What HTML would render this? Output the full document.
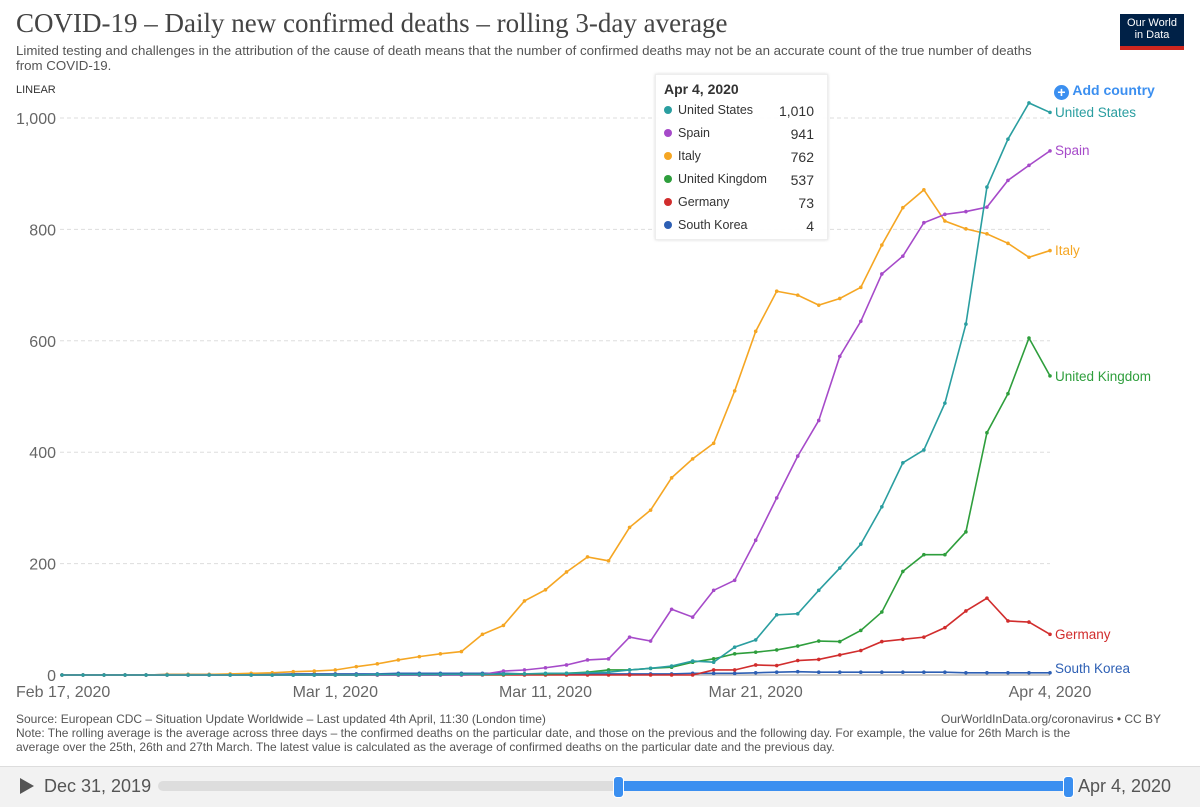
<!DOCTYPE html>
<html><head><meta charset="utf-8"><style>
body{margin:0;width:1200px;height:806px;background:#fff;font-family:"Liberation Sans",sans-serif;overflow:hidden;position:relative}
.t{position:absolute;white-space:nowrap}
</style></head><body>
<div class="t" style="left:16px;top:8px;font-family:'Liberation Serif',serif;font-size:27px;color:#444">COVID-19 – Daily new confirmed deaths – rolling 3-day average</div>
<div class="t" style="left:16px;top:43px;font-size:13.3px;line-height:15px;color:#555;white-space:normal;width:1030px">Limited testing and challenges in the attribution of the cause of death means that the number of confirmed deaths may not be an accurate count of the true number of deaths from COVID-19.</div>
<div style="position:absolute;left:1120px;top:14px;width:64px;height:36px;background:#002147;color:#fff;font-size:11px;line-height:12px;text-align:center;padding-top:3px;box-sizing:border-box;border-bottom:4px solid #ce261e">Our World<br>in Data</div>
<div class="t" style="left:16px;top:84px;font-size:11px;color:#333">LINEAR</div>
<div class="t" style="left:1054px;top:82px;font-size:14px;font-weight:bold;color:#3b8ff0"><span style="display:inline-block;width:15px;height:15px;border-radius:50%;background:#3b8ff0;color:#fff;text-align:center;line-height:15px;font-size:14px;vertical-align:-2px">+</span> Add country</div>
<svg id="chart" width="1200" height="806" style="position:absolute;left:0;top:0"></svg>
<div style="position:absolute;left:655px;top:74px;width:171px;height:164px;background:rgba(255,255,255,0.95);border:1px solid #eee;box-shadow:0 0 3px rgba(0,0,0,0.15);font-size:12.5px;color:#333">
<div style="position:absolute;left:8px;top:6px;font-weight:bold;font-size:14px">Apr 4, 2020</div>
<div id="tt"></div></div>
<div class="t" style="left:16px;top:712px;font-size:12px;color:#555;line-height:14px">Source: European CDC – Situation Update Worldwide – Last updated 4th April, 11:30 (London time)<br>Note: The rolling average is the average across three days – the confirmed deaths on the particular date, and those on the previous and the following day. For example, the value for 26th March is the<br>average over the 25th, 26th and 27th March. The latest value is calculated as the average of confirmed deaths on the particular date and the previous day.</div>
<div class="t" style="left:941px;top:712px;font-size:12px;color:#555">OurWorldInData.org/coronavirus • CC BY</div>
<div style="position:absolute;left:0;top:766px;width:1200px;height:40px;background:#f2f2f2;border-top:1px solid #ddd"></div>
<div style="position:absolute;left:20px;top:778px;width:0;height:0;border-left:14px solid #555;border-top:8px solid transparent;border-bottom:8px solid transparent"></div>
<div class="t" style="left:44px;top:776px;font-size:18px;color:#555">Dec 31, 2019</div>
<div style="position:absolute;left:158px;top:781px;width:910px;height:10px;border-radius:5px;background:#ddd"></div>
<div style="position:absolute;left:618px;top:781px;width:450px;height:10px;background:#3b8ff0"></div>
<div style="position:absolute;left:613px;top:776px;width:9px;height:20px;border-radius:4px;background:#3b8ff0;border:1px solid #fff"></div>
<div style="position:absolute;left:1063px;top:776px;width:9px;height:20px;border-radius:4px;background:#3b8ff0;border:1px solid #fff"></div>
<div class="t" style="left:1078px;top:776px;font-size:18px;color:#555">Apr 4, 2020</div>
<script>
const yTicks=[0,200,400,600,800,1000];
const yTickLabels=["0","200","400","600","800","1,000"];
const xTickDays=[0,13,23,33,47];
const xTickLabels=["Feb 17, 2020","Mar 1, 2020","Mar 11, 2020","Mar 21, 2020","Apr 4, 2020"];
const countries=["United States","Spain","Italy","United Kingdom","Germany","South Korea"];
const colors=["#2a9ea0","#a64ac9","#f5a623","#2e9e3c","#d12d2d","#2d5fb4"];
const latest=["1,010","941","762","537","73","4"];
const us=[0,0,0,0,0,0,0,0,0,0,0,0,0,0,0,1,1,1,1,1,1,2,2,3,3,4,5,9,12,16,25,23,50,63,108,110,152,192,235,302,381,404,488,630,876,962,1027,1010];
const spain=[0,0,0,0,0,0,0,0,0,0,0,0,0,0,0,0,0,0,0,0,1,7,9,13,18,27,29,68,61,118,104,152,170,242,318,393,457,572,635,720,752,812,827,832,840,888,915,941];
const italy=[0,0,0,0,0,1,1,1,2,3,4,6,7,9,15,20,27,33,38,42,73,89,133,153,185,212,205,265,296,354,388,416,510,617,689,682,664,676,696,772,839,871,815,801,792,775,750,762];
const uk=[0,0,0,0,0,0,0,0,0,0,0,0,0,0,0,0,0,0,0,1,1,1,2,2,3,5,9,9,12,14,23,29,38,41,45,52,61,60,80,113,186,216,216,257,435,505,605,537];
const germany=[0,0,0,0,0,0,0,0,0,0,0,0,0,0,0,0,0,0,0,0,0,0,0,0,0,0,0,0,0,0,0,9,9,18,17,26,28,36,44,60,64,68,85,115,138,97,95,73];
const korea=[0,0,0,0,0,1,1,1,1,1,1,2,2,2,2,2,3,3,3,3,3,3,2,2,2,2,2,2,2,2,3,3,3,4,5,6,5,5,5,5,5,5,5,4,4,4,4,4];
const series=[us,spain,italy,uk,germany,korea];
const NS="http://www.w3.org/2000/svg";
const svg=document.getElementById('chart');
const X0=62,X1=1050,Y0=675,Y1=118;
const x=d=>X0+(X1-X0)*d/47;
const y=v=>Y0-(Y0-Y1)*v/1000;
function mk(t,a){const e=document.createElementNS(NS,t);for(const k in a)e.setAttribute(k,a[k]);svg.appendChild(e);return e;}
yTicks.forEach((v,i)=>{
 const g=mk('line',{x1:60,x2:X1,y1:y(v),y2:y(v),stroke:i?'#ddd':'#999','stroke-dasharray':i?'4,3':'none'});
 
 
 const t=mk('text',{x:56,y:y(v)+6,'text-anchor':'end','font-size':16,fill:'#666','font-family':'Liberation Sans,sans-serif'});
 t.textContent=yTickLabels[i];
 
 
});
xTickDays.forEach((d,i)=>{
 const t=mk('text',{x:i==0?16:x(d),y:697,'text-anchor':i==0?'start':'middle','font-size':16,fill:'#666','font-family':'Liberation Sans,sans-serif'});
 t.textContent=xTickLabels[i];
 
 
});
const labelY=[112,150,250,376,634,668];
series.slice().reverse().forEach((s,ri)=>{
 const i=series.length-1-ri;
 const p=mk('polyline',{points:s.map((v,d)=>x(d)+','+y(v)).join(' '),fill:'none',stroke:colors[i],'stroke-width':1.6});
 
 
 s.forEach((v,d)=>{
  const c=mk('circle',{cx:x(d),cy:y(v),r:1.8,fill:colors[i]});
  
  
 });
 const t=mk('text',{x:1055,y:labelY[i]+5,'font-size':13.5,fill:colors[i],'font-family':'Liberation Sans,sans-serif'});
 t.textContent=countries[i];
 
 
});
const tt=document.getElementById('tt');
countries.forEach((c,i)=>{
 const r=document.createElement('div');
 
 
 r.style.cssText='position:absolute;left:8px;width:150px;top:'+(28+i*23)+'px';
 r.innerHTML='<span style="display:inline-block;width:8px;height:8px;border-radius:50%;background:'+colors[i]+';margin-right:6px"></span>'+c+'<span style="position:absolute;right:0;font-size:14px">'+latest[i]+'</span>';
 tt.appendChild(r);
});
</script>
</body></html>
